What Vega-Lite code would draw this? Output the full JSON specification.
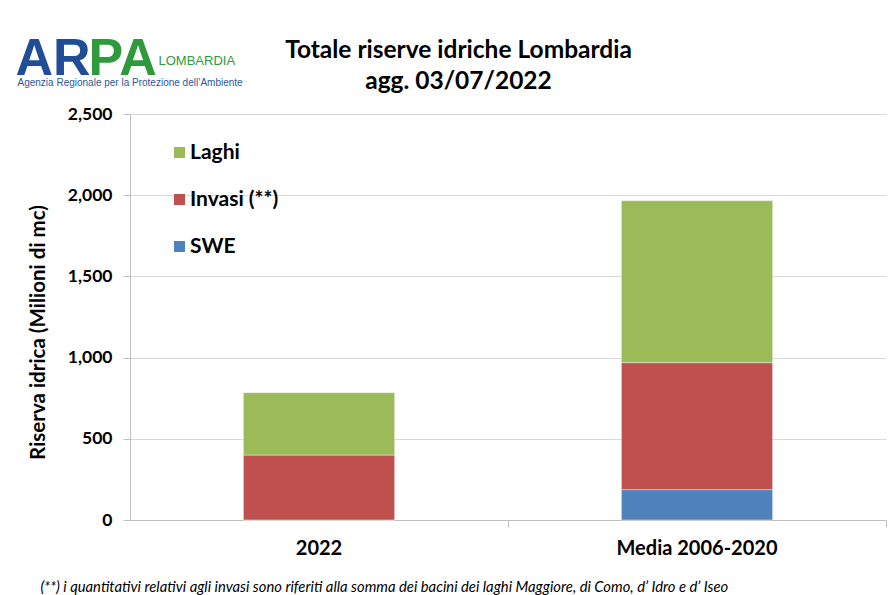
{
  "$schema": "https://vega.github.io/schema/vega-lite/v6.json",
  "autosize": {"type": "none"},
  "width": 756,
  "height": 406,
  "padding": {"left": 130, "top": 114, "right": 7, "bottom": 75},
  "background": "white",
  "config": {
    "font": "Lato",
    "view": {"stroke": null},
    "axis": {"labelFont": "Lato", "titleFont": "Lato"}
  },
  "data": {
    "values": [
      {"periodo": "2022", "serie": "SWE", "valore": 0},
      {"periodo": "2022", "serie": "Invasi (**)", "valore": 400},
      {"periodo": "2022", "serie": "Laghi", "valore": 384},
      {"periodo": "Media 2006-2020", "serie": "SWE", "valore": 187},
      {"periodo": "Media 2006-2020", "serie": "Invasi (**)", "valore": 782},
      {"periodo": "Media 2006-2020", "serie": "Laghi", "valore": 997}
    ]
  },
  "layer": [
    {
      "transform": [
        {"calculate": "indexof(['SWE', 'Invasi (**)', 'Laghi'], datum.serie)", "as": "ordine"}
      ],
      "mark": {"type": "bar", "stroke": "#eeeeee", "strokeWidth": 0.5},
      "encoding": {
        "x": {
          "field": "periodo",
          "type": "nominal",
          "sort": ["2022", "Media 2006-2020"],
          "scale": {"paddingInner": 0.6, "paddingOuter": 0.3},
          "axis": {
            "title": "(**) i quantitativi relativi agli invasi sono riferiti alla somma dei bacini dei laghi Maggiore, di Como, d’ Idro e d’ Iseo",
            "titleFontStyle": "italic",
            "titleFontWeight": "normal",
            "titleFontSize": 14.8,
            "titleColor": "#000000",
            "titleX": -90,
            "titleY": 71,
            "titleAlign": "left",
            "titleAnchor": null,
            "titleBaseline": "alphabetic",
            "labelAngle": 0,
            "labelFontSize": 20,
            "labelFontWeight": "bold",
            "labelColor": "#000000",
            "labelPadding": 11,
            "domainColor": "#bfbfbf",
            "tickColor": "#bfbfbf",
            "tickSize": 7,
            "bandPosition": 1.75,
            "grid": false
          }
        },
        "y": {
          "field": "valore",
          "type": "quantitative",
          "stack": "zero",
          "scale": {"domain": [0, 2500], "nice": false},
          "axis": {
            "values": [0, 500, 1000, 1500, 2000, 2500],
            "format": ",.0f",
            "title": "Riserva idrica  (Milioni di mc)",
            "titleFontSize": 20.5,
            "titleFontWeight": "bold",
            "titleColor": "#000000",
            "titleX": -82,
            "titleY": 218,
            "titleAngle": -90,
            "titleBaseline": "bottom",
            "titleAlign": "center",
            "labelFontSize": 17.5,
            "labelFontWeight": "bold",
            "labelColor": "#000000",
            "labelPadding": 11,
            "domainColor": "#bfbfbf",
            "tickColor": "#bfbfbf",
            "tickSize": 7,
            "gridColor": "#d9d9d9",
            "grid": true
          }
        },
        "order": {"field": "ordine", "type": "quantitative", "sort": "ascending"},
        "color": {
          "field": "serie",
          "type": "nominal",
          "scale": {
            "domain": ["Laghi", "Invasi (**)", "SWE"],
            "range": ["#9BBB59", "#C0504D", "#4F81BD"]
          },
          "legend": {
            "title": null,
            "orient": "none",
            "legendX": 39,
            "legendY": 28,
            "symbolType": "square",
            "symbolSize": 121,
            "symbolStrokeWidth": 0,
            "symbolOpacity": 1,
            "labelFont": "Lato",
            "labelFontSize": 21,
            "labelFontWeight": "bold",
            "labelColor": "#000000",
            "labelOffset": 0,
            "rowPadding": 25
          }
        }
      }
    },
    {
      "mark": {"type": "point", "opacity": 0},
      "encoding": {
        "x": {
          "datum": 0,
          "type": "quantitative",
          "axis": {
            "orient": "top",
            "labels": false, "ticks": false, "domain": false, "grid": false,
            "title": "AR",
            "titleAngle": 0,
            "titleX": -115,
            "titleY": -40,
            "titleAlign": "left",
            "titleBaseline": "alphabetic",
            "titleFont": "Liberation Sans",
            "titleFontSize": 52,
            "titleFontWeight": "bold",
            "titleColor": "#1F4E96"
          }
        },
        "y": {
          "datum": 0,
          "type": "quantitative",
          "axis": {
            "orient": "right",
            "labels": false, "ticks": false, "domain": false, "grid": false,
            "title": "PA",
            "titleAngle": 0,
            "titleX": -798,
            "titleY": -40,
            "titleAlign": "left",
            "titleBaseline": "alphabetic",
            "titleFont": "Liberation Sans",
            "titleFontSize": 52,
            "titleFontWeight": "bold",
            "titleColor": "#2E9A3C"
          }
        }
      }
    },
    {
      "mark": {"type": "point", "opacity": 0},
      "encoding": {
        "x": {
          "datum": 0,
          "type": "quantitative",
          "axis": {
            "orient": "top",
            "labels": false, "ticks": false, "domain": false, "grid": false,
            "title": "LOMBARDIA",
            "titleAngle": 0,
            "titleX": 28,
            "titleY": -50,
            "titleAlign": "left",
            "titleBaseline": "alphabetic",
            "titleFont": "Liberation Sans",
            "titleFontSize": 13,
            "titleFontWeight": "normal",
            "titleColor": "#2E9A3C"
          }
        },
        "y": {
          "datum": 0,
          "type": "quantitative",
          "axis": {
            "orient": "right",
            "labels": false, "ticks": false, "domain": false, "grid": false,
            "title": "Agenzia Regionale per la Protezione dell’Ambiente",
            "titleAngle": 0,
            "titleX": -869,
            "titleY": -29,
            "titleAlign": "left",
            "titleBaseline": "alphabetic",
            "titleFont": "Liberation Sans",
            "titleFontSize": 10,
            "titleFontWeight": "normal",
            "titleColor": "#2F5597"
          }
        }
      }
    },
    {
      "mark": {"type": "point", "opacity": 0},
      "encoding": {
        "x": {
          "datum": 0,
          "type": "quantitative",
          "axis": {
            "orient": "top",
            "labels": false, "ticks": false, "domain": false, "grid": false,
            "title": ["Totale riserve idriche Lombardia", "agg. 03/07/2022"],
            "titleAngle": 0,
            "titleX": 328,
            "titleY": -57,
            "titleAlign": "center",
            "titleBaseline": "alphabetic",
            "titleLineHeight": 31,
            "titleFont": "Lato",
            "titleFontSize": 24.5,
            "titleFontWeight": "bold",
            "titleColor": "#000000"
          }
        }
      }
    }
  ],
  "resolve": {"scale": {"x": "independent", "y": "independent", "color": "independent"}}
}
